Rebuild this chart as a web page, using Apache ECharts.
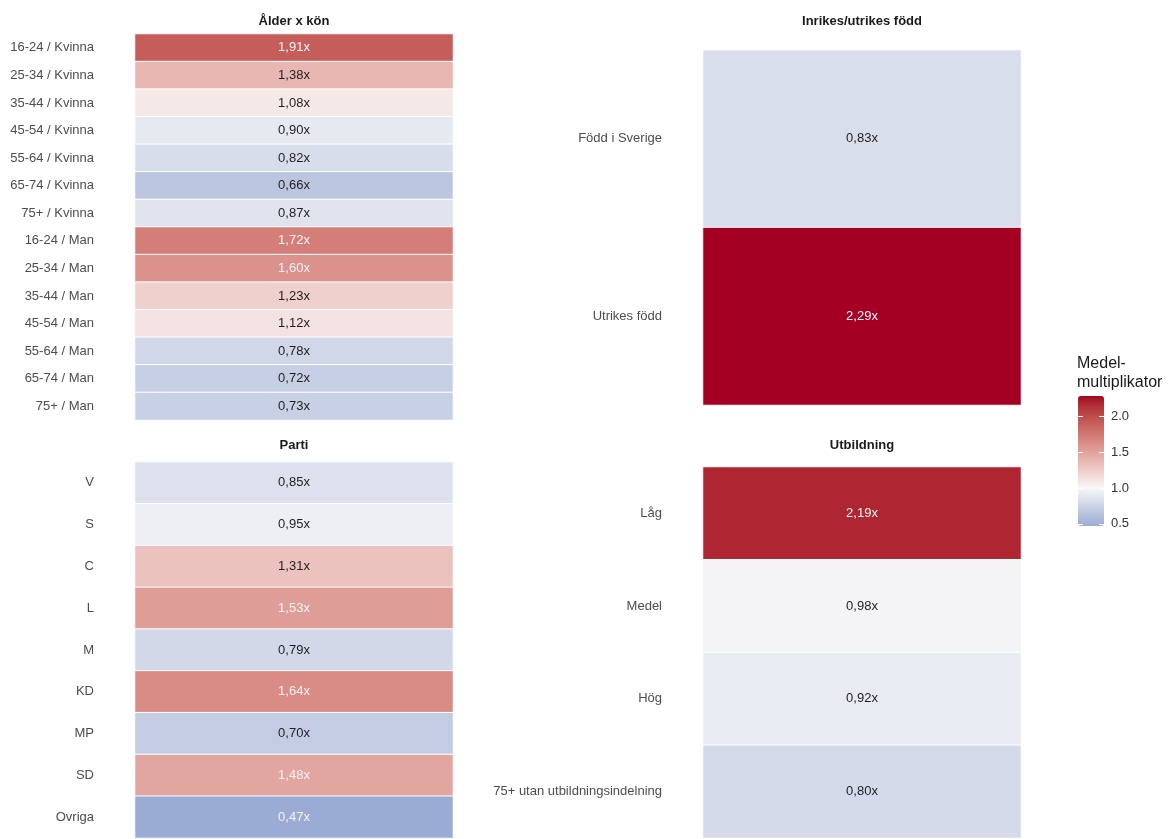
<!DOCTYPE html>
<html lang="sv">
<head>
    <meta charset="utf-8">
    <title>Medelmultiplikator</title>
    <script src="https://cdn.jsdelivr.net/npm/echarts@6/dist/echarts.min.js"></script>
    <style>
        html, body { margin: 0; padding: 0; background: #fff; }
        #main { width: 1174px; height: 839px; }
    </style>
</head>
<body>
<div id="main"></div>

<script type="text/javascript">
    // data
    var ageLabels = ['16-24 / Kvinna', '25-34 / Kvinna', '35-44 / Kvinna', '45-54 / Kvinna', '55-64 / Kvinna',
        '65-74 / Kvinna', '75+ / Kvinna', '16-24 / Man', '25-34 / Man', '35-44 / Man', '45-54 / Man',
        '55-64 / Man', '65-74 / Man', '75+ / Man'];
    var ageValues = [1.91, 1.38, 1.08, 0.90, 0.82, 0.66, 0.87, 1.72, 1.60, 1.23, 1.12, 0.78, 0.72, 0.73];

    var bornLabels = ['Född i Sverige', 'Utrikes född'];
    var bornValues = [0.83, 2.29];

    var partyLabels = ['V', 'S', 'C', 'L', 'M', 'KD', 'MP', 'SD', 'Ovriga'];
    var partyValues = [0.85, 0.95, 1.31, 1.53, 0.79, 1.64, 0.70, 1.48, 0.47];

    var eduLabels = ['Låg', 'Medel', 'Hög', '75+ utan utbildningsindelning'];
    var eduValues = [2.19, 0.98, 0.92, 0.80];

    var scaleMin = 0.47, scaleMid = 1.0, scaleMax = 2.29;
    var legendTicks = [0.5, 1.0, 1.5, 2.0];

    var FONT = 'Liberation Sans, Arial, Helvetica, sans-serif';
    var LOW = '#9bacd4', MID = '#f7f7f7', HIGH = '#a30023';

    // --- Lab interpolation (like ggplot's gradient) ---
    function lin(c) { c /= 255; return c <= 0.04045 ? c / 12.92 : Math.pow((c + 0.055) / 1.055, 2.4); }
    function gam(c) {
        c = c <= 0.0031308 ? 12.92 * c : 1.055 * Math.pow(c, 1 / 2.4) - 0.055;
        return Math.round(Math.max(0, Math.min(1, c)) * 255);
    }
    function toLab(hex) {
        var r = lin(parseInt(hex.substr(1, 2), 16)), g = lin(parseInt(hex.substr(3, 2), 16)), b = lin(parseInt(hex.substr(5, 2), 16));
        var X = (0.4124564 * r + 0.3575761 * g + 0.1804375 * b) / 0.95047;
        var Y = 0.2126729 * r + 0.7151522 * g + 0.0721750 * b;
        var Z = (0.0193339 * r + 0.1191920 * g + 0.9503041 * b) / 1.08883;
        function f(t) { return t > 0.008856 ? Math.cbrt(t) : 7.787 * t + 16 / 116; }
        return [116 * f(Y) - 16, 500 * (f(X) - f(Y)), 200 * (f(Y) - f(Z))];
    }
    function fromLab(lab) {
        var fy = (lab[0] + 16) / 116, fx = fy + lab[1] / 500, fz = fy - lab[2] / 200;
        function fi(t) { return t * t * t > 0.008856 ? t * t * t : (t - 16 / 116) / 7.787; }
        var X = 0.95047 * fi(fx), Y = fi(fy), Z = 1.08883 * fi(fz);
        var r = 3.2404542 * X - 1.5371385 * Y - 0.4985314 * Z;
        var g = -0.9692660 * X + 1.8760108 * Y + 0.0415560 * Z;
        var b = 0.0556434 * X - 0.2040259 * Y + 1.0572252 * Z;
        return 'rgb(' + gam(r) + ',' + gam(g) + ',' + gam(b) + ')';
    }
    var labLow = toLab(LOW), labMid = toLab(MID), labHigh = toLab(HIGH);
    function colorAt(v) {
        var a, b, t;
        if (v < scaleMid) { a = labLow; b = labMid; t = (v - scaleMin) / (scaleMid - scaleMin); }
        else { a = labMid; b = labHigh; t = (v - scaleMid) / (scaleMax - scaleMid); }
        t = Math.max(0, Math.min(1, t));
        return fromLab([a[0] + (b[0] - a[0]) * t, a[1] + (b[1] - a[1]) * t, a[2] + (b[2] - a[2]) * t]);
    }
    var ramp = [];
    for (var k = 0; k <= 120; k++) ramp.push(colorAt(scaleMin + (scaleMax - scaleMin) * k / 120));

    function cells(values) {
        return values.map(function (v, i) {
            var light = v > 1.45 || v < 0.55;
            return { value: [0, i, v], label: { color: light ? '#f7f2f2' : '#1f1f1f' } };
        });
    }

    var panels = [
        { title: 'Ålder x kön', labels: ageLabels, values: ageValues, left: 135, top: 34, height: 386 },
        { title: 'Inrikes/utrikes född', labels: bornLabels, values: bornValues, left: 703, top: 50, height: 355 },
        { title: 'Parti', labels: partyLabels, values: partyValues, left: 135, top: 462, height: 376 },
        { title: 'Utbildning', labels: eduLabels, values: eduValues, left: 703, top: 467, height: 371 }
    ];
    var titleTops = [15, 15, 439, 439];

    var grids = [], xAxes = [], yAxes = [], series = [], titles = [];
    panels.forEach(function (p, i) {
        grids.push({ left: p.left, top: p.top, width: 318, height: p.height });
        xAxes.push({ type: 'category', gridIndex: i, data: [''], show: false });
        yAxes.push({
            type: 'category', gridIndex: i, data: p.labels, inverse: true,
            axisLine: { show: false }, axisTick: { show: false }, splitLine: { show: false },
            axisLabel: { margin: 41, fontSize: 13, color: '#4d4d4d', fontFamily: FONT }
        });
        series.push({
            type: 'heatmap', xAxisIndex: i, yAxisIndex: i, data: cells(p.values),
            itemStyle: { borderColor: '#ffffff', borderWidth: 1 },
            label: {
                show: true, fontSize: 13, fontFamily: FONT,
                formatter: function (d) { return d.value[2].toFixed(2).replace('.', ',') + 'x'; }
            },
            emphasis: { disabled: true }
        });
        titles.push({
            text: p.title, left: p.left + 159, top: titleTops[i], textAlign: 'center', padding: 0,
            textStyle: { fontSize: 13, fontWeight: 'bold', color: '#1a1a1a', fontFamily: FONT }
        });
    });
    titles.push({
        text: 'Medel-\nmultiplikator', left: 1077, top: 354, padding: 0,
        textStyle: { fontSize: 16, fontWeight: 'normal', color: '#1a1a1a', fontFamily: FONT, lineHeight: 19 }
    });

    // legend colourbar axis (ticks and labels)
    grids.push({ left: 1078, top: 396, width: 26, height: 130 });
    xAxes.push({ type: 'category', gridIndex: 4, data: [''], show: false });
    yAxes.push({
        type: 'value', gridIndex: 4, min: scaleMin, max: scaleMax, position: 'right', z: 10,
        axisLine: { show: false }, splitLine: { show: false },
        axisTick: { show: true, inside: true, length: 5, customValues: legendTicks, lineStyle: { color: '#ffffff', width: 1 } },
        axisLabel: {
            margin: 7, fontSize: 13, color: '#333', fontFamily: FONT, customValues: legendTicks,
            formatter: function (v) { return v.toFixed(1); }
        }
    });
    yAxes.push({
        type: 'value', gridIndex: 4, min: scaleMin, max: scaleMax, position: 'left', z: 10,
        axisLine: { show: false }, splitLine: { show: false }, axisLabel: { show: false },
        axisTick: { show: true, inside: true, length: 5, customValues: legendTicks, lineStyle: { color: '#ffffff', width: 1 } }
    });

    var myChart = echarts.init(document.getElementById('main'));
    myChart.setOption({
        animation: false,
        title: titles,
        grid: grids,
        xAxis: xAxes,
        yAxis: yAxes,
        visualMap: {
            type: 'continuous', min: scaleMin, max: scaleMax, dimension: 2,
            seriesIndex: [0, 1, 2, 3], calculable: false, hoverLink: false,
            orient: 'vertical', left: 1078, top: 396, itemWidth: 26, itemHeight: 130,
            padding: 0, text: null, showLabel: false,
            inRange: { color: ramp }
        },
        series: series
    });
</script>
</body>
</html>
